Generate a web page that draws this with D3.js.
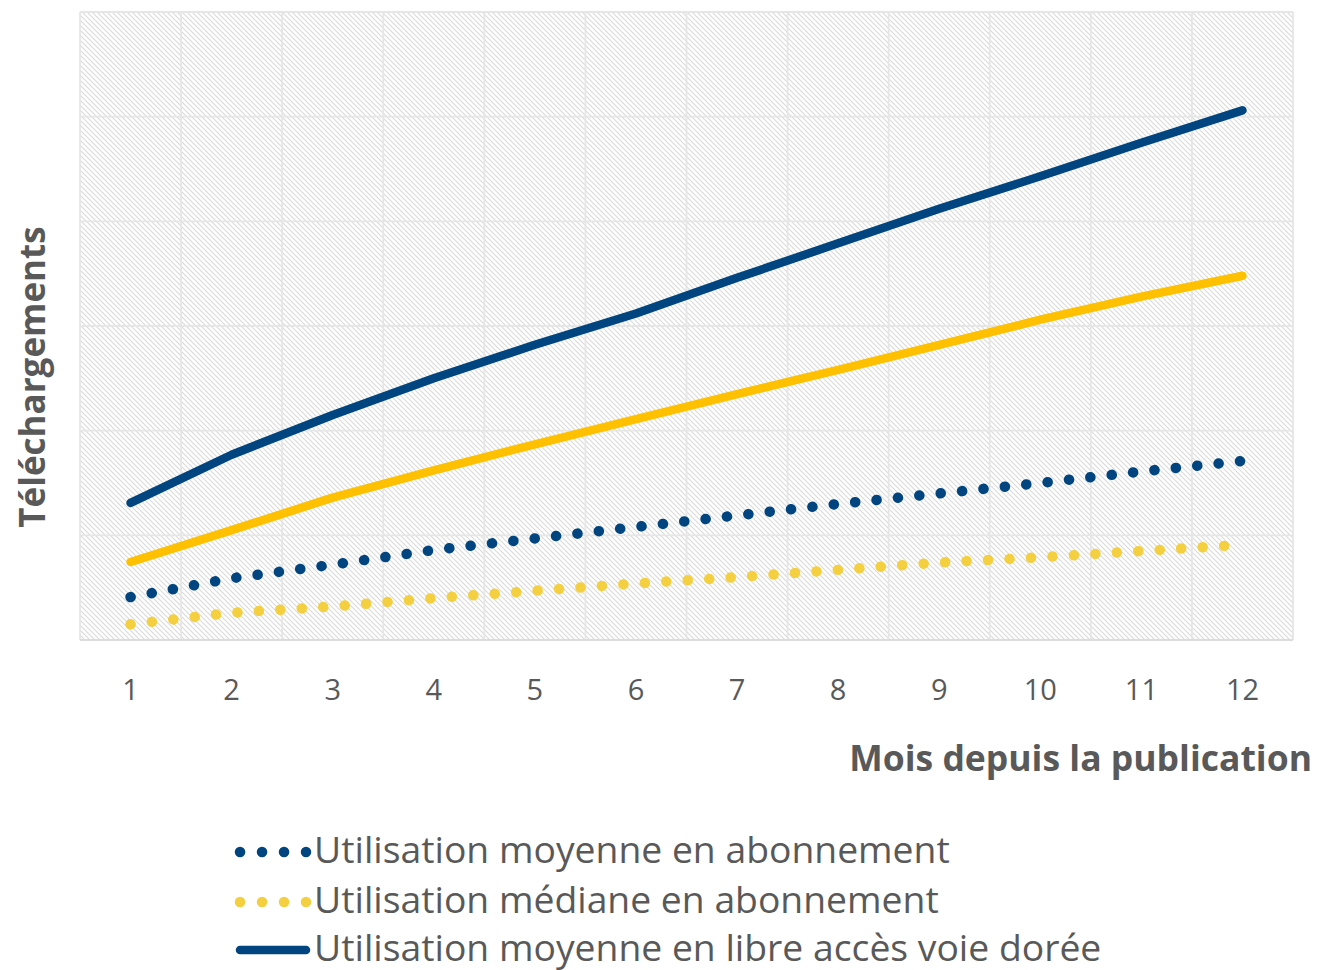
<!DOCTYPE html>
<html>
<head>
<meta charset="utf-8">
<script src="https://cdn.jsdelivr.net/npm/d3@7"></script>
<style>
  body { margin: 0; background: #fff; overflow: hidden; }
  text { font-family: "Open Sans", "Noto Sans", sans-serif; }
</style>
</head>
<body>
<div id="chart"></div>
<script>
// Data (arbitrary units, no y tick labels in the original)
const months = [1, 2, 3, 4, 5, 6, 7, 8, 9, 10, 11, 12];
const moyenneAbonnement = [0.41, 0.59, 0.72, 0.86, 0.97, 1.08, 1.19, 1.30, 1.40, 1.50, 1.61, 1.71];
const medianeAbonnement = [0.15, 0.26, 0.32, 0.40, 0.47, 0.54, 0.60, 0.67, 0.74, 0.79, 0.85, 0.91];
const moyenneLibre = [1.31, 1.77, 2.15, 2.50, 2.82, 3.12, 3.46, 3.79, 4.12, 4.43, 4.75, 5.06];
const medianeLibre = [0.745, 1.05, 1.36, 1.62, 1.87, 2.11, 2.35, 2.58, 2.82, 3.06, 3.28, 3.48];
const yGrid = [0, 1, 2, 3, 4, 5, 6];

const series = [
    { name: "Utilisation moyenne en abonnement", values: moyenneAbonnement, color: "#00457f", dotted: true },
    { name: "Utilisation médiane en abonnement", values: medianeAbonnement, color: "#f4cf40", dotted: true },
    { name: "Utilisation moyenne en libre accès voie dorée", values: moyenneLibre, color: "#00457f", dotted: false },
    { name: "Utilisation médiane en libre accès voie dorée", values: medianeLibre, color: "#ffc000", dotted: false }
];

const W = 1317, H = 970;
const plot = { left: 80, right: 1293, top: 12, bottom: 640 };

const svg = d3.select("#chart").append("svg")
    .attr("width", W)
    .attr("height", H);

// hatch pattern for plot background
const defs = svg.append("defs");
const pat = defs.append("pattern")
    .attr("id", "hatch")
    .attr("patternUnits", "userSpaceOnUse")
    .attr("width", 5).attr("height", 5);
pat.append("rect").attr("width", 5).attr("height", 5).attr("fill", "#fff");
pat.append("path")
    .attr("d", "M-1,-1 L6,6 M-1,4 L1,6 M4,-1 L6,1")
    .attr("stroke", "#dadada")
    .attr("stroke-width", 1.1);

const x = d3.scaleBand()
    .domain(months)
    .range([plot.left, plot.right]);

const y = d3.scaleLinear()
    .domain([0, 6])
    .range([plot.bottom, plot.top]);

svg.append("rect")
    .attr("x", plot.left).attr("y", plot.top)
    .attr("width", plot.right - plot.left)
    .attr("height", plot.bottom - plot.top)
    .attr("fill", "url(#hatch)");

// grid
svg.append("g").selectAll("line.h")
    .data(yGrid)
    .enter().append("line")
    .attr("x1", plot.left).attr("x2", plot.right)
    .attr("y1", d => y(d)).attr("y2", d => y(d))
    .attr("stroke", "#e6e6e6")
    .attr("stroke-width", 1.8);

const vBounds = months.map(m => x(m)).concat([plot.right]);
svg.append("g").selectAll("line.v")
    .data(vBounds)
    .enter().append("line")
    .attr("x1", d => d).attr("x2", d => d)
    .attr("y1", plot.top).attr("y2", plot.bottom)
    .attr("stroke", "#e6e6e6")
    .attr("stroke-width", 1.8);

// bottom axis line
svg.append("line")
    .attr("x1", plot.left).attr("x2", plot.right)
    .attr("y1", plot.bottom).attr("y2", plot.bottom)
    .attr("stroke", "#d9d9d9")
    .attr("stroke-width", 1.5);

// x tick labels
const xAxis = d3.axisBottom(x).tickSize(0).tickPadding(0);
const xg = svg.append("g")
    .attr("transform", `translate(0,${plot.bottom})`)
    .call(xAxis);
xg.select(".domain").remove();
xg.selectAll("text")
    .attr("y", 60)
    .attr("dy", null)
    .attr("font-size", 29)
    .attr("fill", "#595959")
    .style("font-family", "'Open Sans', sans-serif");

const line = d3.line()
    .x((d, i) => x(months[i]) + x.bandwidth() / 2)
    .y(d => y(d));

// draw solid series first, dotted on top
const drawOrder = [series[3], series[2], series[1], series[0]];
svg.append("g").selectAll("path")
    .data(drawOrder)
    .enter().append("path")
    .attr("d", d => line(d.values))
    .attr("fill", "none")
    .attr("stroke", d => d.color)
    .attr("stroke-width", d => d.dotted ? 10.5 : 8.5)
    .attr("stroke-linecap", "round")
    .attr("stroke-linejoin", "round")
    .attr("stroke-dasharray", d => d.dotted ? "0.1 21.4" : null);

// axis titles
svg.append("text")
    .attr("x", 1312).attr("y", 771)
    .attr("text-anchor", "end")
    .attr("font-size", 35.5)
    .attr("font-weight", "bold")
    .attr("fill", "#595959")
    .text("Mois depuis la publication");

svg.append("text")
    .attr("transform", "translate(45,377) rotate(-90)")
    .attr("text-anchor", "middle")
    .attr("font-size", 35)
    .attr("font-weight", "bold")
    .attr("fill", "#595959")
    .text("Téléchargements");

// legend (only the first three entries fit inside the frame)
const legendY = [852, 902, 950];
const legend = svg.append("g");
const items = legend.selectAll("g")
    .data(series.slice(0, 3))
    .enter().append("g")
    .attr("transform", (d, i) => `translate(0,${legendY[i]})`);

items.append("line")
    .attr("x1", 240).attr("x2", 306)
    .attr("y1", 0).attr("y2", 0)
    .attr("stroke", d => d.color)
    .attr("stroke-width", d => d.dotted ? 10.5 : 8.5)
    .attr("stroke-linecap", "round")
    .attr("stroke-dasharray", d => d.dotted ? "0.1 21.9" : null);

items.append("text")
    .attr("x", 314)
    .attr("y", 11)
    .attr("font-size", 37.3)
    .attr("fill", "#595959")
    .text(d => d.name);
</script>
</body>
</html>
